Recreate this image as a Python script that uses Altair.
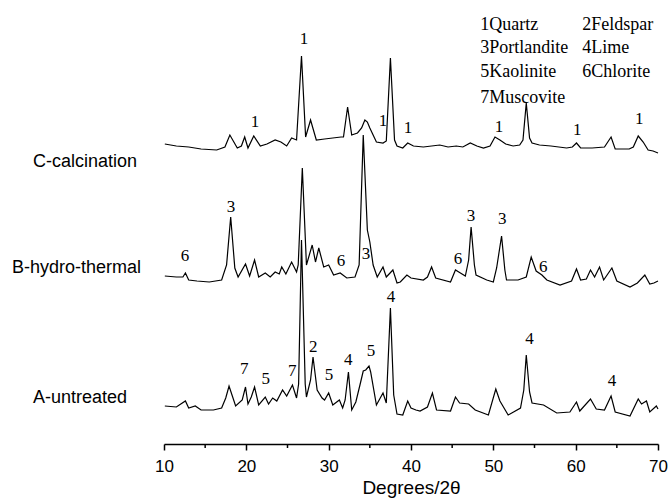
import altair as alt
import pandas as pd

# ---- XRD traces (2theta in degrees, intensity in arbitrary offset units) ----
theta_C = [10.1, 11.5, 13.0, 14.5, 16.4, 17.4, 18.0, 18.9, 19.4, 19.8, 20.2, 20.9, 21.7, 22.5, 23.5, 24.2,
           24.9, 25.5, 26.1, 26.7, 27.2, 27.8, 28.5, 29.5, 30.5, 31.5, 31.8, 32.3, 32.8, 33.5, 34.0, 34.4,
           34.7, 35.0, 35.8, 36.6, 37.0, 37.5, 38.0, 38.3, 39.0, 39.6, 40.3, 41.5, 42.5, 43.5, 44.5, 45.5,
           46.3, 47.2, 48.0, 48.8, 49.6, 50.2, 50.8, 51.5, 52.4, 53.2, 53.6, 54.0, 54.4, 54.7, 55.6, 57.0,
           58.9, 59.6, 60.1, 60.6, 62.0, 63.5, 64.3, 64.8, 66.5, 67.0, 67.6, 68.2, 68.8, 69.4, 70.0]
counts_C = [300, 298, 297, 295, 294, 297, 309, 296, 298, 307, 296, 308, 298, 300, 304, 302,
            298, 306, 304, 388, 307, 324, 304, 305, 306, 307, 307, 337, 309, 311, 316, 324,
            322, 316, 302, 301, 303, 386, 304, 298, 296, 301, 298, 297, 298, 299, 297, 298,
            297, 301, 298, 296, 298, 307, 304, 300, 298, 299, 304, 341, 306, 301, 299, 298,
            296, 297, 301, 296, 296, 297, 307, 295, 295, 297, 308, 302, 294, 293, 291]

theta_B = [10.1, 11.5, 12.3, 12.6, 13.0, 14.0, 15.5, 17.0, 17.6, 18.1, 18.6, 19.0, 19.9, 20.4, 21.0, 21.5,
           22.3, 22.9, 23.5, 24.0, 24.3, 24.8, 25.5, 26.1, 26.3, 26.8, 27.3, 28.0, 28.4, 28.8, 29.4, 30.0,
           30.6, 31.4, 32.2, 33.2, 33.7, 34.2, 34.7, 35.0, 35.4, 35.9, 36.6, 37.0, 37.8, 38.3, 38.7, 39.5,
           40.0, 41.5, 42.0, 42.5, 43.0, 44.8, 45.4, 46.0, 46.6, 47.0, 47.3, 47.7, 47.9, 49.2, 50.0, 50.4,
           51.0, 51.4, 51.6, 53.0, 54.0, 54.6, 55.2, 55.9, 56.5, 58.1, 59.5, 60.1, 60.6, 61.3, 61.8, 62.3,
           62.9, 63.4, 64.4, 65.0, 66.6, 67.5, 68.4, 69.0, 69.5, 70.0]
counts_B = [168, 167, 167, 171, 164, 163, 162, 164, 179, 227, 176, 167, 180, 168, 184, 167,
            171, 167, 172, 170, 177, 170, 182, 172, 179, 276, 179, 199, 182, 196, 177, 179,
            169, 171, 166, 167, 179, 309, 214, 202, 179, 167, 177, 167, 174, 161, 162, 169,
            166, 164, 167, 177, 166, 162, 174, 171, 168, 184, 217, 179, 169, 164, 162, 176,
            208, 174, 164, 164, 167, 187, 173, 169, 164, 159, 163, 175, 164, 165, 174, 167,
            177, 164, 176, 163, 157, 161, 169, 160, 161, 163]

theta_A = [10.1, 11.5, 12.6, 13.0, 13.8, 14.5, 16.0, 17.0, 17.5, 17.9, 18.3, 18.7, 19.5, 19.9, 20.2, 20.6,
           21.0, 21.5, 22.3, 22.7, 23.2, 23.7, 24.4, 24.9, 25.6, 26.1, 26.35, 26.7, 27.15, 27.3, 27.8, 28.1,
           28.6, 29.2, 29.5, 30.0, 30.5, 31.3, 31.7, 32.0, 32.4, 32.8, 33.3, 33.8, 34.2, 34.5, 34.9, 35.1,
           35.8, 36.6, 37.0, 37.5, 37.9, 38.3, 39.0, 39.6, 40.0, 40.6, 41.1, 42.0, 42.6, 43.1, 44.8, 45.4,
           45.9, 47.0, 47.8, 49.4, 50.3, 50.8, 51.8, 53.3, 53.7, 54.0, 54.4, 54.7, 56.1, 57.7, 59.3, 60.1,
           60.5, 61.8, 62.5, 63.5, 64.3, 64.8, 66.6, 67.6, 68.0, 68.6, 69.0, 69.8, 70.0]
counts_A = [38, 37, 43, 36, 38, 34, 34, 36, 46, 58, 48, 38, 44, 57, 40, 47,
            57, 39, 47, 40, 46, 43, 54, 48, 59, 46, 60, 204, 60, 47, 64, 87,
            54, 46, 44, 51, 39, 44, 36, 44, 72, 34, 42, 59, 73, 74, 78, 72,
            39, 51, 41, 136, 49, 30, 29, 43, 36, 34, 33, 37, 51, 34, 33, 47,
            41, 40, 34, 29, 55, 43, 29, 36, 54, 89, 52, 41, 39, 31, 32, 42,
            33, 45, 35, 34, 48, 32, 28, 45, 40, 43, 32, 38, 35]

# ---- phase labels placed over the peaks ----
peak_text = ["1", "1", "1", "1", "1", "1", "1",
             "6", "3", "6", "3", "6", "3", "3", "6",
             "7", "5", "7", "2", "5", "4", "5", "4", "4", "4"]
peak_theta = [27.0, 21.06, 36.61, 39.65, 50.7, 60.18, 67.71,
              12.55, 18.14, 31.51, 34.54, 45.72, 47.3, 51.07, 56.05,
              19.76, 22.36, 25.59, 28.14, 30.05, 32.39, 35.15, 37.58, 54.39, 64.4]
peak_level = [405, 322, 323, 316, 317, 314, 325,
              188, 237, 183, 190, 185, 228, 225, 177,
              75, 65, 73, 97, 69, 84, 93, 147, 105, 63]

# ---- key of phases ----
key_text = ["1Quartz", "2Feldspar", "3Portlandite", "4Lime", "5Kaolinite", "6Chlorite", "7Muscovite"]
key_theta = [48.4, 60.79, 48.4, 60.79, 48.4, 60.79, 48.4]
key_level = [419, 419, 396, 396, 372, 372, 346]

# ---- sample names ----
sample_text = ["C-calcination", "B-hydro-thermal", "A-untreated"]
sample_theta = [-5.92, -8.47, -5.92]
sample_level = [282, 176, 46]

minor_ticks = [15, 25, 35, 45, 55, 65]
major_ticks = [10, 20, 30, 40, 50, 60, 70]

traces = pd.concat([
    pd.DataFrame({"theta": theta_C, "counts": counts_C, "sample": "C"}),
    pd.DataFrame({"theta": theta_B, "counts": counts_B, "sample": "B"}),
    pd.DataFrame({"theta": theta_A, "counts": counts_A, "sample": "A"}),
], ignore_index=True)

peaks = pd.DataFrame({"t": peak_text, "theta": peak_theta, "counts": peak_level})
keys = pd.DataFrame({"t": key_text, "theta": key_theta, "counts": key_level})
samples = pd.DataFrame({"t": sample_text, "theta": sample_theta, "counts": sample_level})
minors = pd.DataFrame({"theta": minor_ticks})

xscale = alt.Scale(domain=[10, 70], nice=False, zero=False)
yscale = alt.Scale(domain=[0, 444], nice=False, zero=False)

x_axis = alt.Axis(values=major_ticks, title="Degrees/2θ", grid=False, labelFlush=False,
                  domainColor="black", domainWidth=1.5, tickColor="black", tickWidth=1.5,
                  tickSize=6, labelFont="Liberation Sans", labelFontSize=17, labelColor="black",
                  labelPadding=8, titleFont="Liberation Sans", titleFontSize=19,
                  titleFontWeight="normal", titleColor="black", titlePadding=4, format="d")

lines = alt.Chart(traces).mark_line(color="black", strokeWidth=1.2).encode(
    x=alt.X("theta:Q", scale=xscale, axis=x_axis),
    y=alt.Y("counts:Q", scale=yscale, axis=None),
    detail="sample:N",
)

minor = alt.Chart(minors).mark_rule(color="black", strokeWidth=1.5).encode(
    x=alt.X("theta:Q", scale=xscale, axis=x_axis),
    y=alt.value(444),
    y2=alt.value(448),
)

def text_layer(df, font, size, align):
    return alt.Chart(df).mark_text(font=font, fontSize=size, color="black",
                                   align=align, baseline="middle").encode(
        x=alt.X("theta:Q", scale=xscale, axis=x_axis),
        y=alt.Y("counts:Q", scale=yscale, axis=None),
        text="t:N")

peak_labels = text_layer(peaks, "Liberation Serif", 17, "center")
key_labels = text_layer(keys, "Liberation Serif", 18, "left")
sample_labels = text_layer(samples, "Liberation Sans", 18, "left")

chart = alt.layer(lines, minor, peak_labels, key_labels, sample_labels).properties(
    width=494, height=444,
    background="white",
    autosize=alt.AutoSizeParams(type="none"),
    padding={"left": 164, "top": 0, "right": 12, "bottom": 60},
).configure_view(stroke=None)

chart.save("out.html", embed_options={"renderer": "svg", "actions": False})
